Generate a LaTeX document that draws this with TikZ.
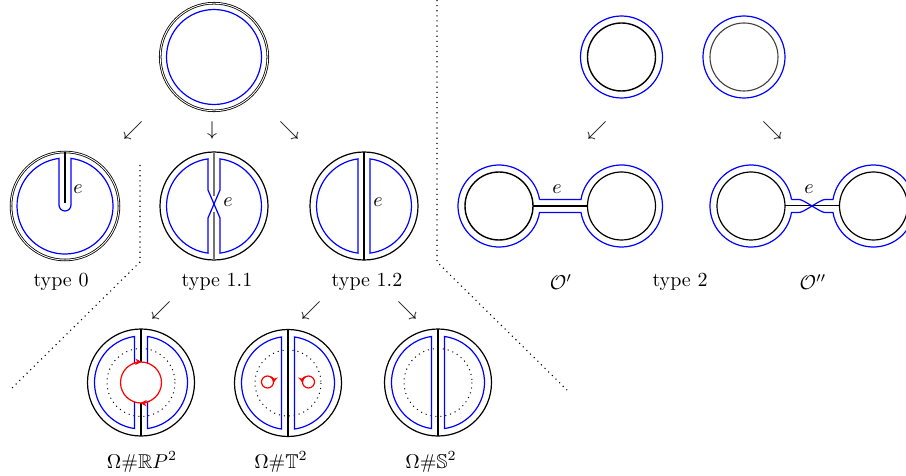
\documentclass[tikz,border=0pt]{standalone}
\usepackage{amssymb}
\usetikzlibrary{arrows.meta}
\begin{document}
\begin{tikzpicture}[x=0.5pt,y=-0.5pt,
  bl/.style={line width=0.6pt},
  thickring/.style={line width=0.4pt,double,double distance=0.45pt},
  band/.style={line width=0.4pt,double=black!55,double distance=0.6pt},
  bluec/.style={blue,line width=0.6pt},
  sep/.style={dotted,line width=0.55pt},
  dotc/.style={dotted,line width=0.5pt},
  lbl/.style={inner sep=0pt},
  redc/.style={red,line width=0.6pt},
  redtip/.style={red,line width=0.6pt,-{Stealth[length=3.2pt,width=3.2pt]}}]
\useasboundingbox (0,0) rectangle (906,476);
\clip (0,0) rectangle (906,476);

% separators
\coordinate (sl1) at (140,165); \coordinate (sl2) at (140,262); \coordinate (sl3) at (10,390);
\coordinate (sr1) at (437,0); \coordinate (sr2) at (437,262); \coordinate (sr3) at (567,390);
\draw[sep] (sl1) -- (sl2) -- (sl3);
\draw[sep] (sr1) -- (sr2) -- (sr3);

% top circle
\coordinate (T) at (214,57);
\draw[thickring] (T) circle[radius=53.8];
\draw[bluec] (T) circle[radius=47.5];

% arrows
\node[lbl] (a1) at (133,131) {$\swarrow$};
\node[lbl] (a2) at (212,131) {$\downarrow$};
\node[lbl] (a3) at (289,131) {$\searrow$};
\node[lbl] (a4) at (597,131) {$\swarrow$};
\node[lbl] (a5) at (772,131) {$\searrow$};
\node[lbl] (a6) at (161,310) {$\swarrow$};
\node[lbl] (a7) at (311,310) {$\swarrow$};
\node[lbl] (a8) at (407,310) {$\searrow$};

% type 0
\coordinate (C0) at (65,206);
\draw[thickring] (C0) circle[radius=54];
\draw[line width=1.1pt] (65,152) -- (65,203);
\draw[bluec] (59,158.4) arc[start angle=262.8,end angle=-82.8,radius=48] -- (71,205) arc[start angle=0,end angle=180,radius=6] -- cycle;
\node[lbl] (e0) at (78,189) {$e$};
\node[lbl] (t0) at (61,282) {type 0};

% type 1.1
\coordinate (C11) at (214,206);
\draw[bl] (C11) circle[radius=54];
\draw[band] (214,152) -- (214,196);
\draw[band] (214,212) -- (214,260);
\draw[bluec] (208,158.9) arc[start angle=262.7,end angle=97.3,radius=47.5] -- (208,218) -- (220,190) -- (220,158.9) arc[start angle=-82.7,end angle=82.7,radius=47.5] -- (220,218) -- (208,190) -- cycle;
\node[lbl] (e11) at (228,202) {$e$};
\node[lbl] (t11) at (217,282) {type 1.1};

% type 1.2
\coordinate (C12) at (364,206);
\draw[bl] (C12) circle[radius=54];
\draw[line width=0.7pt] (364,152) -- (364,260);
\draw[bluec] (358,158.9) arc[start angle=262.7,end angle=97.3,radius=47.5] -- cycle;
\draw[bluec] (370,158.9) arc[start angle=-82.7,end angle=82.7,radius=47.5] -- cycle;
\node[lbl] (e12) at (378,202) {$e$};
\node[lbl] (t12) at (367,282) {type 1.2};

% bottom: RP2
\coordinate (B1) at (141,382.5);
\draw[bl] (B1) circle[radius=53.5];
\draw[dotc] (B1) circle[radius=34];
\draw[bl] (141,329) -- (141,362);
\draw[bl] (141,403) -- (141,436);
\draw[bluec] (134.5,363.06) -- (134.5,336.46) arc[start angle=261.96,end angle=98.04,radius=46.5] -- (134.5,401.94);
\draw[bluec] (147.5,363.06) -- (147.5,336.46) arc[start angle=-81.96,end angle=81.96,radius=46.5] -- (147.5,401.94);
\draw[redc] (B1) circle[radius=20.5];
\draw[redtip] ([shift={(245:20.5)}]B1) arc[start angle=245,end angle=272,radius=20.5];
\draw[redtip] ([shift={(65:20.5)}]B1) arc[start angle=65,end angle=92,radius=20.5];
\node[lbl] (b1) at (142,462) {$\Omega\#\mathbb{R}P^2$};

% bottom: T2
\coordinate (B2) at (288,383);
\draw[bl] (B2) circle[radius=53.5];
\draw[dotc] (B2) circle[radius=33];
\draw[bl] (288,329.5) -- (288,436.5);
\draw[bluec] (281.5,336.96) arc[start angle=261.96,end angle=98.04,radius=46.5] -- cycle;
\draw[bluec] (294.5,336.96) arc[start angle=-81.96,end angle=81.96,radius=46.5] -- cycle;
\coordinate (R1) at (267.5,382);
\coordinate (R2) at (308.5,382);
\draw[redc] (R1) circle[radius=6];
\draw[redc] (R2) circle[radius=6];
\draw[redtip] ([shift={(-60:6)}]R1) arc[start angle=-60,end angle=10,radius=6];
\draw[redtip] ([shift={(240:6)}]R2) arc[start angle=240,end angle=170,radius=6];
\node[lbl] (b2) at (281,462) {$\Omega\#\mathbb{T}^2$};

% bottom: S2
\coordinate (B3) at (438,382.5);
\draw[bl] (B3) circle[radius=53.5];
\draw[dotc] (B3) circle[radius=34];
\draw[bl] (438,329) -- (438,436);
\draw[bluec] (431.5,336.46) arc[start angle=261.96,end angle=98.04,radius=46.5] -- cycle;
\draw[bluec] (444.5,336.46) arc[start angle=-81.96,end angle=81.96,radius=46.5] -- cycle;
\node[lbl] (b3) at (431,462) {$\Omega\#\mathbb{S}^2$};

% right top circles
\coordinate (P1) at (621.5,57);
\coordinate (P2) at (744,57);
\draw[bluec] (P1) circle[radius=41];
\draw[line width=0.7pt] (P1) circle[radius=34];
\draw[bluec] (P2) circle[radius=41];
\draw[line width=0.55pt,black!75] (P2) circle[radius=34];

% O'
\coordinate (L1) at (499,206);
\coordinate (L2) at (621.5,206);
\draw[line width=0.7pt] (L1) circle[radius=34];
\draw[bl] (L2) circle[radius=34];
\draw[bl] (533,206) -- (587.5,206);
\draw[bluec] (539.5,199.5) -- (581,199.5) arc[start angle=189.1,end angle=530.9,radius=41] -- (539.5,212.5) arc[start angle=9.1,end angle=350.9,radius=41] -- cycle;
\node[lbl] (eo1) at (557,189) {$e$};
\node[lbl] (o1) at (561,282) {$\mathcal{O}'$};
\node[lbl] (t2) at (680,282) {type 2};

% O''
\coordinate (M1) at (751,206);
\coordinate (M2) at (873.5,206);
\draw[bl] (M1) circle[radius=34];
\draw[bl] (M2) circle[radius=34];
\draw[line width=0.5pt] (785,206) -- (839.5,206);
\draw[bluec] (791.5,199.5) -- (799,199.5) .. controls (804,199.5) and (820,212.5) .. (825,212.5) -- (833,212.5) arc[start angle=170.9,end angle=-170.9,radius=41] -- (825,199.5) .. controls (820,199.5) and (804,212.5) .. (799,212.5) -- (791.5,212.5) arc[start angle=9.1,end angle=350.9,radius=41] -- cycle;
\node[lbl] (eo2) at (809,189) {$e$};
\node[lbl] (o2) at (813,282) {$\mathcal{O}''$};
\end{tikzpicture}
\end{document}
